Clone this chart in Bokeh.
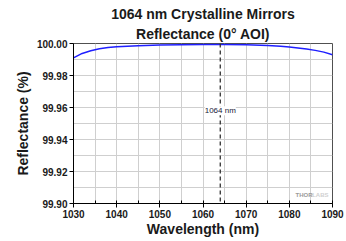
from bokeh.plotting import figure
from bokeh.models import (Range1d, SingleIntervalTicker, NumeralTickFormatter,
                          Span, Label, Title)
from bokeh.embed import file_html
from bokeh.resources import INLINE

# ---- data ----
wavelength_nm = [1030, 1032, 1034, 1036, 1038, 1040, 1045, 1050, 1055, 1060,
                 1065, 1070, 1075, 1078, 1080, 1082, 1084, 1086, 1088, 1090]
reflectance_pct = [99.9910, 99.9938, 99.9955, 99.9967, 99.9975, 99.9980, 99.9986,
                   99.9990, 99.9992, 99.9993, 99.9993, 99.9992, 99.9988, 99.9983,
                   99.9978, 99.9972, 99.9965, 99.9957, 99.9946, 99.9930]
design_wl = 1064
design_label = "1064 nm"
title_lines = ["1064 nm Crystalline Mirrors", "Reflectance (0\u00b0 AOI)"]
x_label = "Wavelength (nm)"
y_label = "Reflectance (%)"
x_limits = (1030, 1090)
y_limits = (99.90, 100.00)

FONT = "Liberation Sans"

p = figure(width=346, height=241, output_backend="svg", toolbar_location=None,
           x_range=Range1d(*x_limits), y_range=Range1d(*y_limits),
           min_border_left=73, min_border_right=14, min_border_top=43,
           min_border_bottom=38)
p.title = None

t2 = Title(text=title_lines[1], align="center", text_font=FONT,
           text_font_size="14px", text_font_style="bold", text_color="#1a1a1a",
           standoff=4)
t1 = Title(text=title_lines[0], align="center", text_font=FONT,
           text_font_size="14px", text_font_style="bold", text_color="#1a1a1a",
           standoff=0)
p.add_layout(t2, "above")
p.add_layout(t1, "above")

p.background_fill_color = "white"
p.border_fill_color = "white"
p.outline_line_color = "#505050"
p.outline_line_width = 1

# axes
p.xaxis.ticker = SingleIntervalTicker(interval=10, num_minor_ticks=2)
p.yaxis.ticker = SingleIntervalTicker(interval=0.02, num_minor_ticks=2)
p.yaxis.formatter = NumeralTickFormatter(format="0.00")
for ax in (p.xaxis[0], p.yaxis[0]):
    ax.axis_line_color = "black"
    ax.major_tick_line_color = "black"
    ax.major_tick_out = 4
    ax.major_tick_in = 0
    ax.major_label_text_font = FONT
    ax.major_label_text_font_size = "10px"
    ax.major_label_text_font_style = "bold"
    ax.major_label_text_color = "#1a1a1a"
    ax.major_label_standoff = 2
    ax.axis_label_text_font = FONT
    ax.axis_label_text_font_size = "14px"
    ax.axis_label_text_font_style = "bold"
    ax.axis_label_text_color = "#1a1a1a"
    ax.axis_label_standoff = 2
p.xaxis.minor_tick_in = 3
p.xaxis.minor_tick_out = 0
p.xaxis.minor_tick_line_color = "black"
p.yaxis.minor_tick_line_color = None
p.xaxis.axis_label = x_label
p.yaxis.axis_label = y_label
p.xaxis.axis_label_standoff = 0
p.yaxis.axis_label_standoff = 3

# grids
p.xgrid.ticker = SingleIntervalTicker(interval=5)
p.ygrid.ticker = SingleIntervalTicker(interval=0.01)
p.grid.grid_line_color = "#cfcfcf"
p.grid.grid_line_width = 1

# curve
p.line(wavelength_nm, reflectance_pct, line_color="#1f1fff", line_width=1.5)

# design wavelength marker
p.add_layout(Span(location=design_wl, dimension="height", line_color="#303030",
                  line_dash="4 3", line_width=1.3))
p.add_layout(Label(x=design_wl, y=99.958, text=design_label, text_align="center",
                   text_baseline="middle", text_font=FONT, text_font_size="8px",
                   text_color="#1a1a3a", background_fill_color="white"))

# watermark
p.add_layout(Label(x=x_limits[1], y=99.9056, x_offset=-4, text="LABS",
                   text_align="right", text_baseline="middle", text_font=FONT,
                   text_font_size="6px", text_font_style="bold", text_color="#d0d0d0"))
p.add_layout(Label(x=x_limits[1], y=99.9056, x_offset=-20, text="THOR",
                   text_align="right", text_baseline="middle", text_font=FONT,
                   text_font_size="6px", text_font_style="bold", text_color="#9a9a9a"))

open("out.html", "w").write(file_html(p, INLINE))
